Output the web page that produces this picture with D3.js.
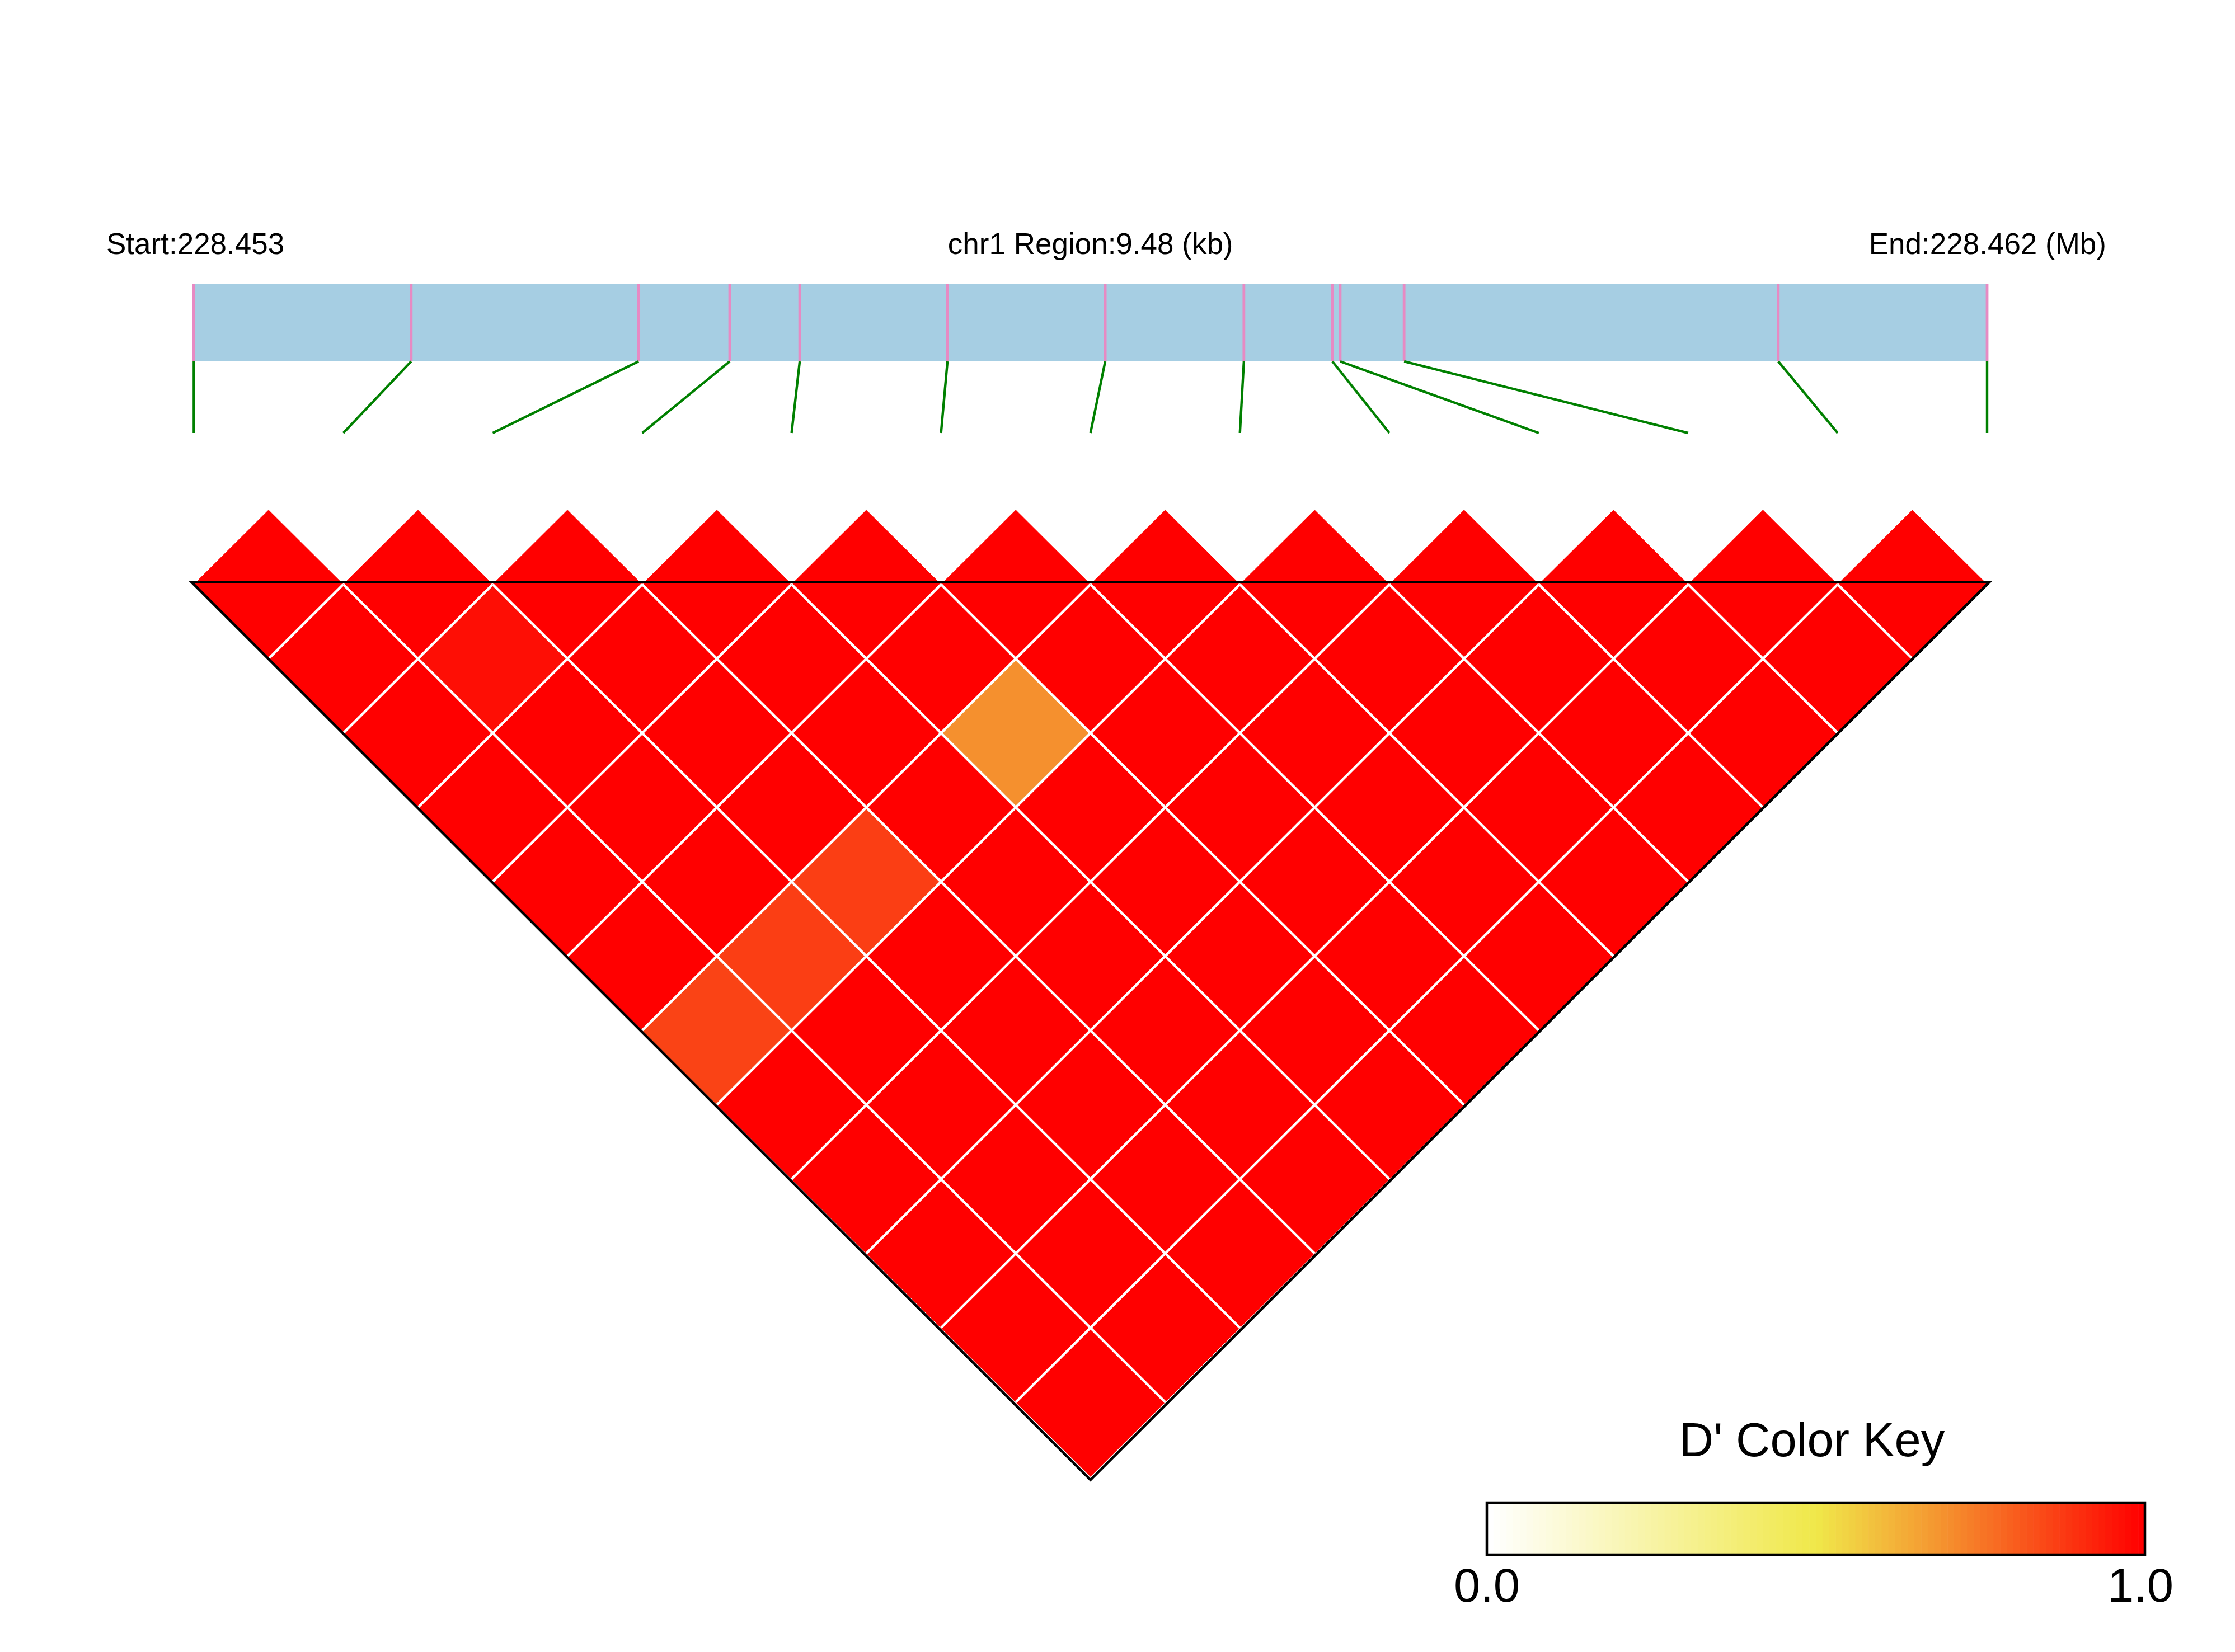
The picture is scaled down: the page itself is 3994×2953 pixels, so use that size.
<!DOCTYPE html>
<html>
<head>
<meta charset="utf-8">
<script src="https://cdn.jsdelivr.net/npm/d3@7"></script>
<style>
  body { margin: 0; background: #fff; }
  text { font-family: "Liberation Sans", Arial, sans-serif; fill: #000; }
</style>
</head>
<body>
<div id="chart"></div>
<script>
// SNP physical positions (bp) on chr1
var chrom = "chr1";
var snpPos = [228452900, 228454049, 228455251, 228455733, 228456103, 228456884, 228457718,
              228458451, 228458919, 228458960, 228459298, 228461276, 228462380];

// D' values, row i holds pairs (i, i+1) .. (i, 12)
var dprimeRows = [
  [1, 1, 1, 1, 1, 1, 0.86, 1, 1, 1, 1, 1],
  [1, 0.97, 1, 1, 1, 0.87, 1, 1, 1, 1, 1],
  [1, 1, 1, 1, 0.87, 1, 1, 1, 1, 1],
  [1, 1, 1, 1, 1, 1, 1, 1, 1],
  [1, 1, 0.70, 1, 1, 1, 1, 1],
  [1, 1, 1, 1, 1, 1, 1],
  [1, 1, 1, 1, 1, 1],
  [1, 1, 1, 1, 1],
  [1, 1, 1, 1],
  [1, 1, 1],
  [1, 1],
  [1]
];

// colour key
var keyStops = [0, 0.5, 0.7, 1];
var keyColors = ["#ffffff", "#f0e84a", "#f5902e", "#ff0000"];
var keyLabels = ["0.0", "1.0"];
var keyTitle = "D' Color Key";
var keySteps = 100;

var W = 3994, H = 2953;
var n = snpPos.length;

var svg = d3.select("#chart").append("svg")
    .attr("width", W)
    .attr("height", H);

svg.append("rect").attr("width", W).attr("height", H).attr("fill", "#fff");

var color = d3.scaleLinear().domain(keyStops).range(keyColors);

// index position of each SNP along the heatmap
var xIdx = d3.scaleLinear().domain([0, n - 1]).range([346.4, 3551]);
// rows of the rotated matrix (row r = j - i - 1)
var yRow = d3.scaleLinear().domain([-1, n - 1]).range([911.7, 2639.3]);
// genomic scale for the gene bar
var xGen = d3.scaleLinear().domain(d3.extent(snpPos)).range([346.4, 3551]);

// build cell list
var cells = [];
dprimeRows.forEach(function(row, i) {
  row.forEach(function(v, k) {
    cells.push({i: i, j: i + 1 + k, v: v});
  });
});

// ---- top text ----
var startMb = (d3.min(snpPos) / 1e6).toFixed(3);
var endMb = (d3.max(snpPos) / 1e6).toFixed(3);
var regionKb = ((d3.max(snpPos) - d3.min(snpPos)) / 1000).toFixed(2);

svg.append("text").attr("x", 190).attr("y", 454)
    .attr("font-size", 53).text("Start:" + startMb);
svg.append("text").attr("x", (xIdx(0) + xIdx(n - 1)) / 2).attr("y", 454)
    .attr("font-size", 53).attr("text-anchor", "middle")
    .text(chrom + " Region:" + regionKb + " (kb)");
svg.append("text").attr("x", 3764).attr("y", 454)
    .attr("font-size", 53).attr("text-anchor", "end")
    .text("End:" + endMb + " (Mb)");

// ---- gene bar ----
var barTop = 507, barBot = 646, lineBot = 774;
svg.append("rect")
    .attr("x", xGen.range()[0]).attr("y", barTop)
    .attr("width", xGen.range()[1] - xGen.range()[0])
    .attr("height", barBot - barTop)
    .attr("fill", "#a6cee3");

svg.append("g").selectAll("line").data(snpPos).enter().append("line")
    .attr("x1", function(d) { return xGen(d); })
    .attr("x2", function(d) { return xGen(d); })
    .attr("y1", barTop).attr("y2", barBot)
    .attr("stroke", "#e78ac3").attr("stroke-width", 4.8);

svg.append("g").selectAll("line").data(snpPos).enter().append("line")
    .attr("x1", function(d) { return xGen(d); })
    .attr("x2", function(d, i) { return xIdx(i); })
    .attr("y1", barBot).attr("y2", lineBot)
    .attr("stroke", "#008000").attr("stroke-width", 4.4);

// ---- LD heatmap cells (diamonds) ----
function pt(a, b) {
  // a, b are matrix coordinates; map to screen
  return [xIdx((a + b) / 2), yRow(b - a - 1)];
}

svg.append("g").selectAll("path").data(cells).enter().append("path")
    .attr("d", function(d) {
      var p = [pt(d.i - 0.5, d.j - 0.5), pt(d.i + 0.5, d.j - 0.5),
               pt(d.i + 0.5, d.j + 0.5), pt(d.i - 0.5, d.j + 0.5)];
      return "M" + p.join("L") + "Z";
    })
    .attr("fill", function(d) { return color(d.v); })
    .attr("stroke", function(d) { return color(d.v); })
    .attr("stroke-width", 0.8);

// white grid lines inside the triangle
var grid = svg.append("g").attr("stroke", "#fff").attr("stroke-width", 4.5);
for (var c = 0; c < n - 2; c++) {
  var a = c + 0.5;
  var p1 = pt(a, c + 1.5), p2 = pt(a, n - 0.5);
  grid.append("line").attr("x1", p1[0]).attr("y1", p1[1]).attr("x2", p2[0]).attr("y2", p2[1]);
}
for (var c2 = 2; c2 < n; c2++) {
  var b = c2 - 0.5;
  var q1 = pt(-0.5, b), q2 = pt(c2 - 1.5, b);
  grid.append("line").attr("x1", q1[0]).attr("y1", q1[1]).attr("x2", q2[0]).attr("y2", q2[1]);
}

// black outline of the triangle
var off = 4;
var outline = [
  [xIdx(0) - off, yRow(0) - off],
  [xIdx((n - 1) / 2), yRow(n - 1) + off * 1.5],
  [xIdx(n - 1) + off, yRow(0) - off]
];
svg.append("path")
    .attr("d", "M" + outline.join("L") + "Z")
    .attr("fill", "none")
    .attr("stroke", "#000")
    .attr("stroke-width", 4.7)
    .attr("stroke-linejoin", "miter");

// ---- colour key ----
var keyX = d3.scaleLinear().domain([0, 1]).range([2657, 3833]);
var keyTop = 2686, keyBot = 2779;
var steps = d3.range(keySteps);
svg.append("g").selectAll("rect").data(steps).enter().append("rect")
    .attr("x", function(k) { return keyX(k / keySteps); })
    .attr("y", keyTop)
    .attr("width", (keyX(1) - keyX(0)) / keySteps + 0.6)
    .attr("height", keyBot - keyTop)
    .attr("fill", function(k) { return color(k / (keySteps - 1)); });

svg.append("rect")
    .attr("x", keyX(0)).attr("y", keyTop)
    .attr("width", keyX(1) - keyX(0)).attr("height", keyBot - keyTop)
    .attr("fill", "none").attr("stroke", "#000").attr("stroke-width", 4.5);

svg.append("text")
    .attr("x", 3238).attr("y", 2603)
    .attr("font-size", 85).attr("text-anchor", "middle")
    .text(keyTitle);

svg.append("g").selectAll("text").data(keyLabels).enter().append("text")
    .attr("x", function(d, i) { return keyX(i) - i * 8; })
    .attr("y", 2863)
    .attr("font-size", 85)
    .attr("text-anchor", "middle")
    .text(function(d) { return d; });
</script>
</body>
</html>
